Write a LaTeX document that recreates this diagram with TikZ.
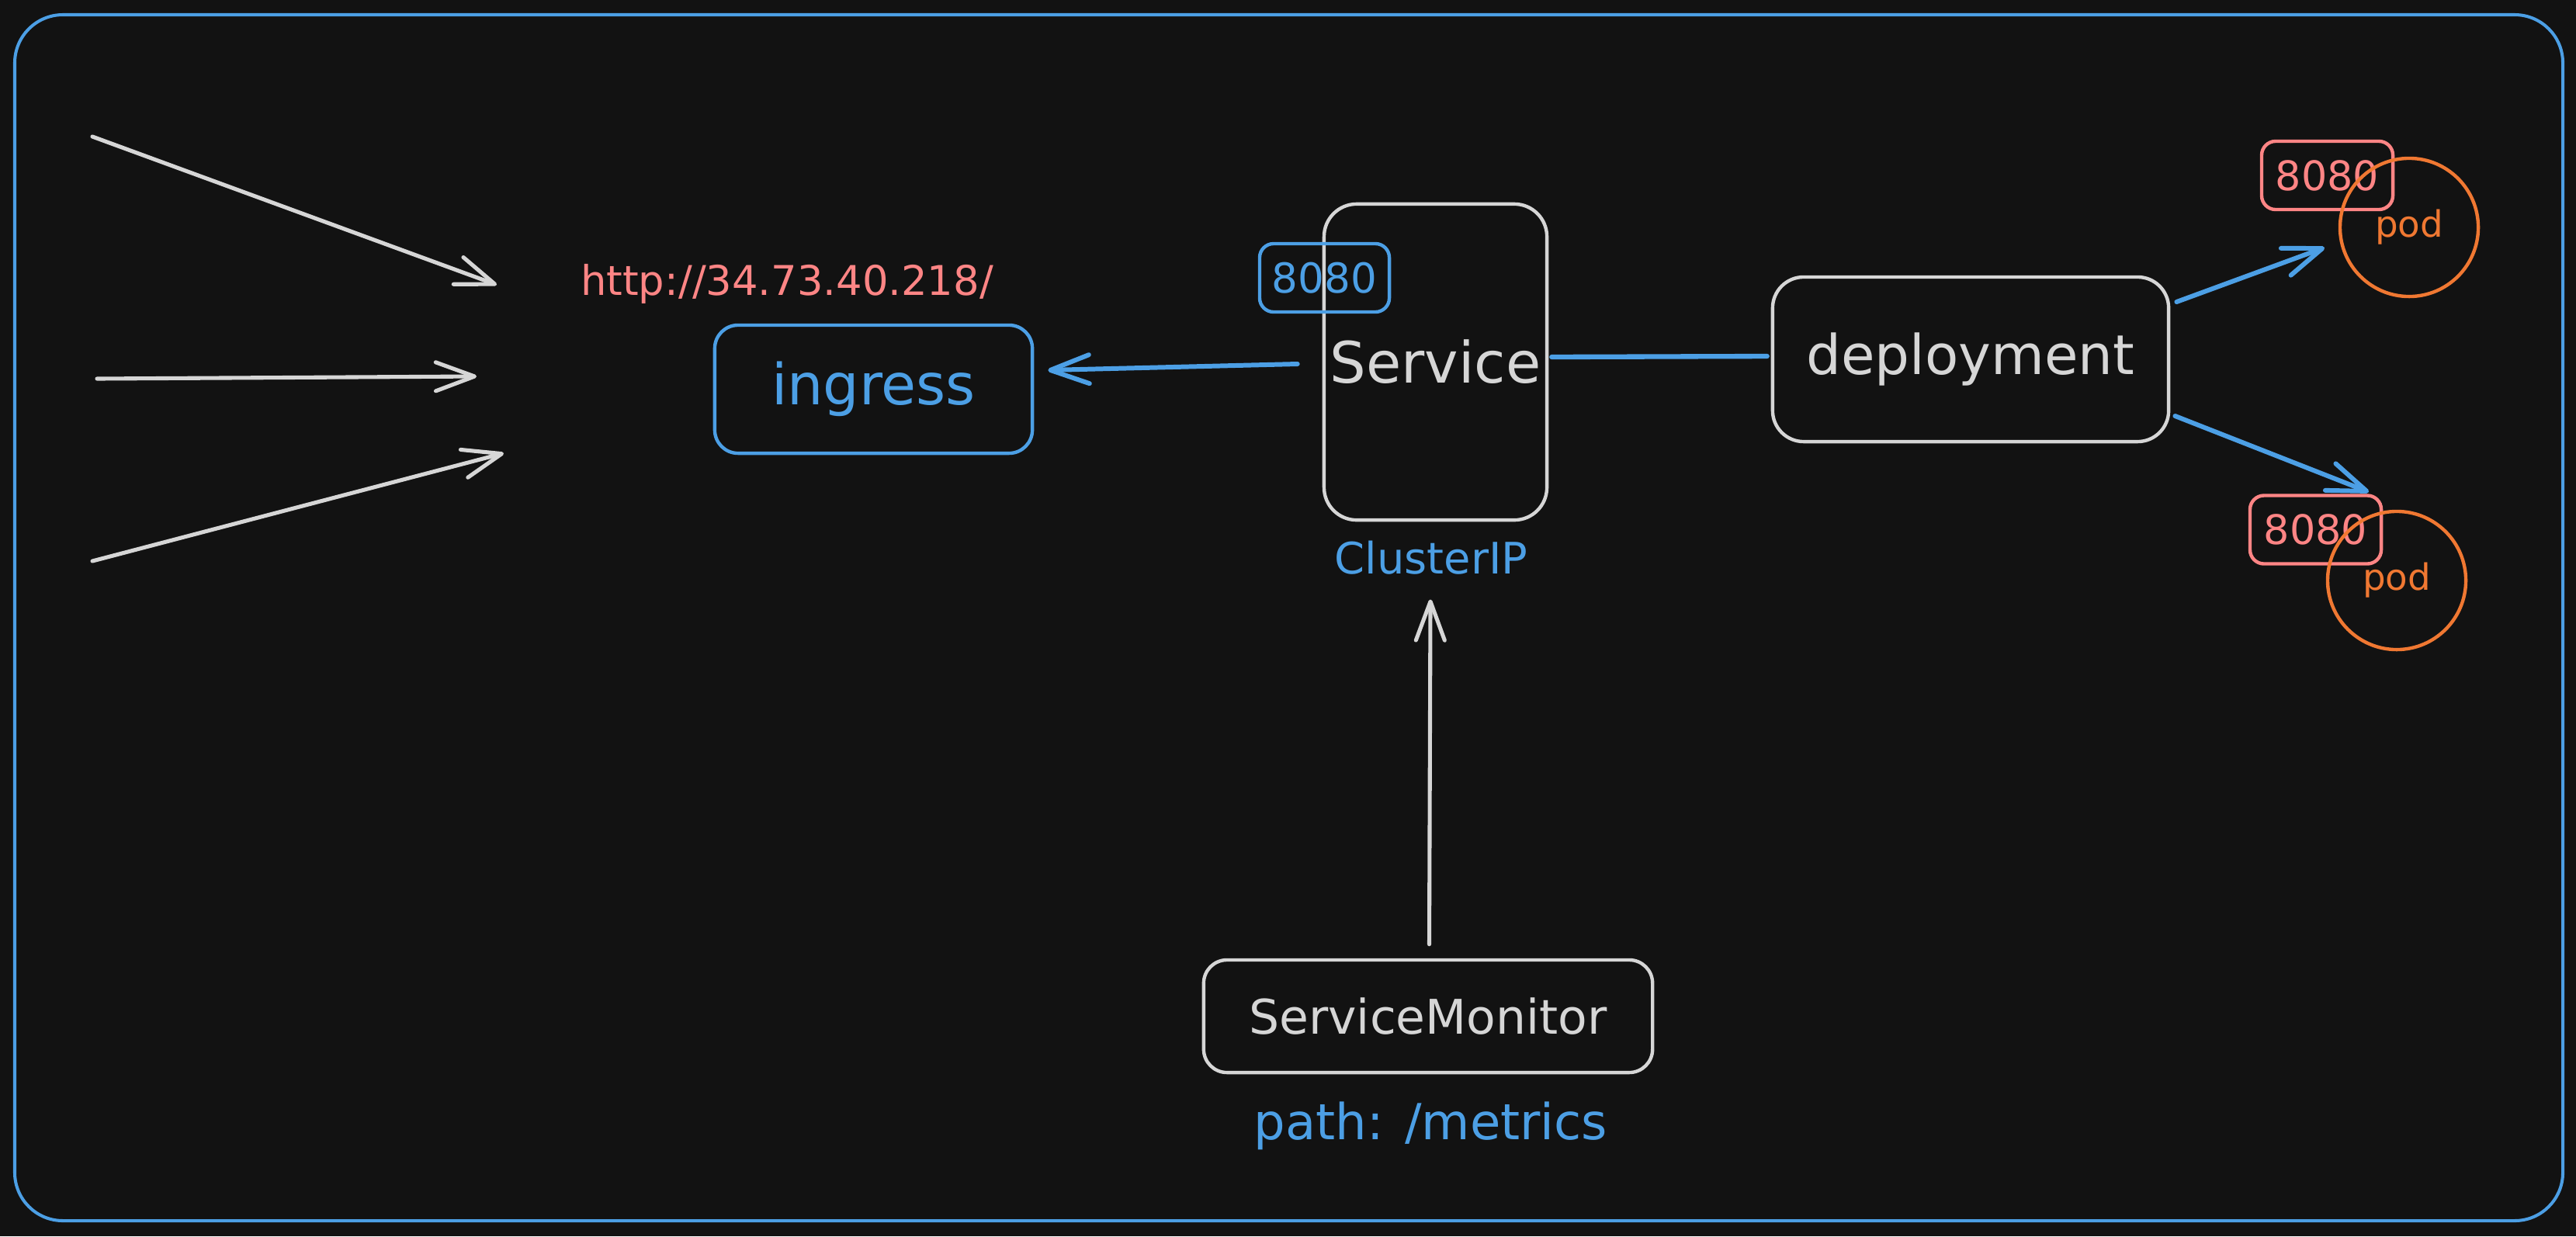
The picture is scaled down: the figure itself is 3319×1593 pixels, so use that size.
\documentclass[tikz,border=0pt]{standalone}
\usepackage{fontspec}
\setmainfont{DejaVu Sans}
\usetikzlibrary{arrows.meta,calc}
\definecolor{bgc}{HTML}{121212}
\definecolor{fgc}{HTML}{D6D6D6}
\definecolor{blc}{HTML}{4C9FE5}
\definecolor{rdc}{HTML}{FF8585}
\definecolor{orc}{HTML}{F07832}
\begin{document}
\begin{tikzpicture}[x=0.01cm,y=-0.01cm,
  >={Straight Barb[length=0.5cm,width=0.37cm,round]},
  fs/.style={font=\fontsize{#1}{#1}\selectfont},
  box/.style={rectangle, line width=1.25pt, inner sep=0pt},
  pod/.style={circle, draw=orc, text=orc, line width=1.25pt, minimum size=1.78cm, inner sep=0pt, fs=13.3pt},
  port/.style={box, draw=rdc, text=rdc, rounded corners=0.18cm, minimum width=1.69cm, minimum height=0.88cm, fs=14.9pt},
  lbl/.style={inner sep=0pt, anchor=base},
  arr/.style={->, line width=1.45pt, line cap=round},
  barr/.style={->, line width=1.7pt, line cap=round},
]
\useasboundingbox (0,0) rectangle (3319,1593);
\fill[bgc] (0,0) rectangle (3319,1593);
\draw[blc, line width=1.15pt, rounded corners=0.62cm] (19,19) rectangle (3302,1573);

% incoming traffic arrows
\coordinate (a1s) at (119,176); \coordinate (a1e) at (640,367);
\coordinate (a2s) at (125,488); \coordinate (a2e) at (614,485);
\coordinate (a3s) at (119,723); \coordinate (a3e) at (649,584);
\draw[arr, fgc] (a1s) -- (a1e);
\draw[arr, fgc] (a2s) -- (a2e);
\draw[arr, fgc] (a3s) -- (a3e);

\node[lbl, text=rdc, fs=15pt] (url) at (1014,380) {http://34.73.40.218/};

\node[box, draw=blc, text=blc, rounded corners=0.3cm, minimum width=4.09cm, minimum height=1.65cm, fs=20.8pt] (ing) at (1125.5,501.5) {ingress};

\node[box, draw=fgc, text=fgc, rounded corners=0.42cm, minimum width=2.87cm, minimum height=4.07cm, fs=20.9pt] (svc) at (1849.5,466.5) {Service};

\node[box, draw=blc, text=blc, rounded corners=0.18cm, minimum width=1.67cm, minimum height=0.88cm, fs=15.1pt] (p0) at (1706.5,358) {8080};

\node[lbl, text=blc, fs=15.9pt] (cip) at (1844,739) {ClusterIP};

\node[box, draw=fgc, text=fgc, rounded corners=0.4cm, minimum width=5.10cm, minimum height=2.12cm, fs=20.1pt] (dep) at (2539,463) {deployment};

\node[port] (p1) at (2998.5,226) {8080};
\node[pod] (pod1) at (3104,293) {pod};
\node[port] (p2) at (2983.5,682.5) {8080};
\node[pod] (pod2) at (3088,748) {pod};

\node[box, draw=fgc, text=fgc, rounded corners=0.3cm, minimum width=5.78cm, minimum height=1.45cm, fs=17.5pt] (sm) at (1840,1309.5) {ServiceMonitor};

\node[lbl, text=blc, fs=18.2pt] (path) at (1843.5,1468) {path: /metrics};

% connectors
\draw[barr, blc] ($(svc.west)+(-32,2.5)$) -- ($(ing.east)+(18,-24.5)$);
\draw[blc, line width=1.8pt, line cap=round] ($(svc.east)+(4,-6.5)$) -- ($(dep.west)+(-5,-4)$);
\draw[barr, blc] ($(dep.east)+(8,-74)$) -- ($(pod1.center)+(-109,26)$);
\draw[barr, blc] ($(dep.east)+(6,73)$) -- ($(pod2.center)+(-36,-114)$);
\draw[arr, fgc] ($(sm.north)+(1.5,-18)$) -- ($(cip.south)+(-1,32)$);
\end{tikzpicture}
\end{document}
